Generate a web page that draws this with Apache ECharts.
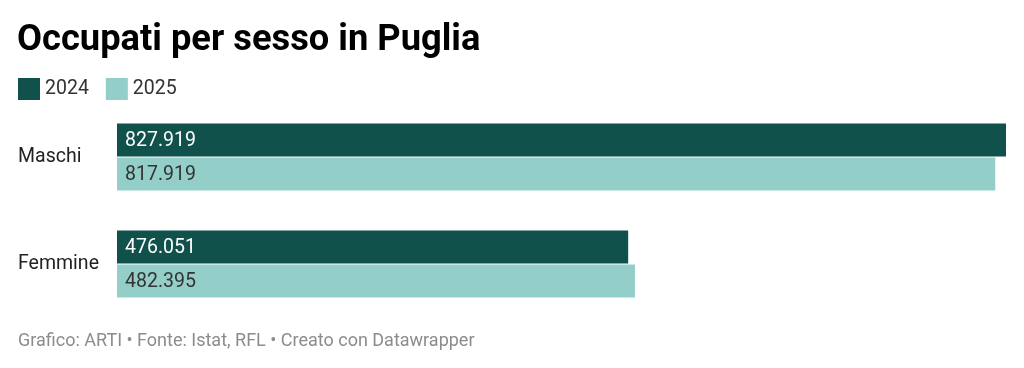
<!DOCTYPE html>
<html><head><meta charset="utf-8">
<script src="https://cdn.jsdelivr.net/npm/echarts@6/dist/echarts.min.js"></script>
<style>html,body{margin:0;padding:0;background:#fff}#c{width:1024px;height:368px}</style>
</head><body><div id="c"></div>
<script>
const categories = ["Maschi", "Femmine"];
const seriesNames = ["2024", "2025"];
const values2024 = [827919, 476051];
const values2025 = [817919, 482395];
const colors = ["#10514c", "#93cfc8"];

const fmt = v => v.toLocaleString('it-IT').replace(/,/g, '.');
const F = 'Roboto, "Noto Sans", sans-serif';

const chart = echarts.init(document.getElementById('c'), null, {renderer: 'canvas'});
chart.setOption({
  animation: false,
  color: colors,
  title: [
    {text: 'Occupati per sesso in Puglia', left: 17, top: 23, padding: 0,
     textStyle: {fontFamily: F, fontSize: 36.3, fontWeight: 'bold', color: '#000'}},
    {text: 'Grafico: ARTI • Fonte: Istat, RFL • Creato con Datawrapper', left: 18, top: 332, padding: 0,
     textStyle: {fontFamily: F, fontSize: 18, fontWeight: 'normal', color: '#8c8c8c'}}
  ],
  legend: {
    left: 18, top: 78, padding: 0, itemWidth: 22, itemHeight: 22, itemGap: 17, icon: 'rect',
    textStyle: {fontFamily: F, fontSize: 19.5, color: '#333'},
    data: seriesNames
  },
  grid: {left: 117, right: 18, top: 103.5, bottom: 50.5, containLabel: false},
  xAxis: {type: 'value', min: 0, max: 827919, show: false},
  yAxis: {
    type: 'category', data: categories, inverse: true,
    axisLine: {show: false}, axisTick: {show: false}, splitLine: {show: false},
    axisLabel: {align: 'left', margin: 99, fontFamily: F, fontSize: 19.5, color: '#222'}
  },
  series: [
    {name: seriesNames[0], type: 'bar', data: values2024, barWidth: 33, barGap: '3%',
     itemStyle: {color: colors[0]},
     label: {show: true, position: 'insideLeft', distance: 8, fontFamily: F, fontSize: 19.5, color: '#fff',
             offset: [0, 1], formatter: p => fmt(p.value)}},
    {name: seriesNames[1], type: 'bar', data: values2025, barWidth: 33,
     itemStyle: {color: colors[1]},
     label: {show: true, position: 'insideLeft', distance: 8, fontFamily: F, fontSize: 19.5, color: '#333',
             offset: [0, 1], formatter: p => fmt(p.value)}}
  ]
});
</script></body></html>
